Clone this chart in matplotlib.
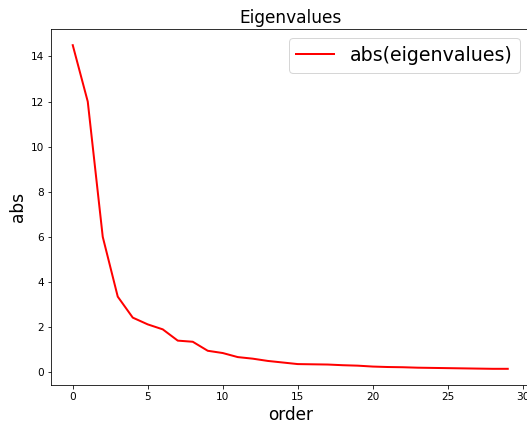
import numpy as np
import matplotlib
matplotlib.use('Agg')
import matplotlib.pyplot as plt

order = list(range(30))
abs_eig = [14.5, 12.0, 6.0, 3.35, 2.42, 2.12, 1.9, 1.4, 1.35, 0.95,
           0.85, 0.67, 0.6, 0.5, 0.43, 0.36, 0.35, 0.34, 0.31, 0.29,
           0.25, 0.23, 0.22, 0.2, 0.19, 0.18, 0.17, 0.16, 0.15, 0.15]

dpi = 72
fig = plt.figure(figsize=(527 / dpi, 425 / dpi), dpi=dpi)
ax = fig.add_axes([51 / 527, 40 / 425, 478.5 / 527, 356 / 425])

ax.plot(order, abs_eig, color='red', linewidth=2, label='abs(eigenvalues)')
ax.set_title('Eigenvalues', fontsize=17)
ax.set_xlabel('order', fontsize=17)
ax.set_ylabel('abs', fontsize=17)
ax.tick_params(labelsize=10.5)
ax.legend(loc='upper right', fontsize=19)

fig.savefig('out.png', dpi=dpi)
